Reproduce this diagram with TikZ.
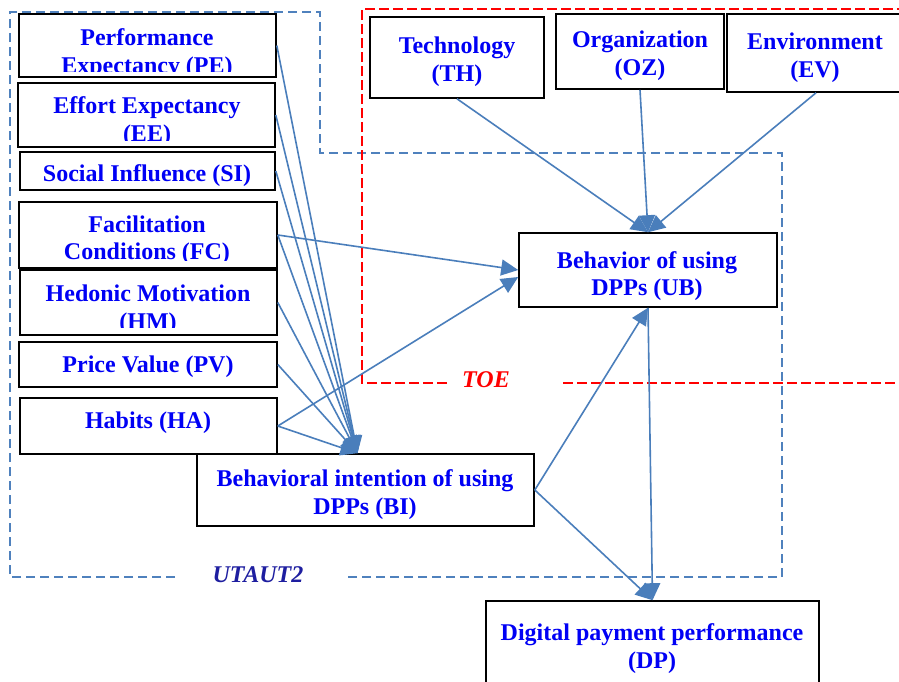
\documentclass[tikz,border=0pt]{standalone}
\usepackage{fontspec}
\setmainfont{Liberation Serif}
\usetikzlibrary{arrows.meta,fit}

\definecolor{arrowblue}{RGB}{74,126,187}
\definecolor{frameblue}{RGB}{79,129,189}
\definecolor{labelblue}{RGB}{0,0,245}
\definecolor{framelabel}{RGB}{30,30,160}
\definecolor{toered}{RGB}{255,0,0}

\tikzset{
  box/.style={draw=black, line width=1.6pt, fill=white, inner sep=0pt},
  lbl/.style={text=labelblue, font=\fontsize{24pt}{27.5pt}\selectfont\bfseries,
              align=center, inner sep=0pt},
  arr/.style={draw=arrowblue, line width=1.6pt, -{Triangle[length=17pt,width=16pt]}},
  utautframe/.style={draw=frameblue, line width=1.4pt, dash pattern=on 9pt off 5pt},
  toeframe/.style={draw=toered, line width=1.8pt, dash pattern=on 10pt off 4pt},
  framelbl/.style={font=\fontsize{24pt}{27.5pt}\selectfont\bfseries\itshape, inner sep=0pt},
}

\begin{document}
\begin{tikzpicture}[x=1pt, y=-1pt]
\useasboundingbox (0,0) rectangle (899,681);
\fill[white] (0,0) rectangle (899,681);

% model frames
\draw[utautframe] (175,577) -- (10,577) -- (10,12) -- (320,12) -- (320,153)
  -- (782,153) -- (782,577) -- (345,577);
\node[framelbl, text=framelabel] (utaut) at (258,575) {UTAUT2};

\draw[toeframe] (447,383) -- (362,383) -- (362,9) -- (905,9);
\draw[toeframe] (563,383) -- (905,383);
\node[framelbl, text=toered] (toe) at (486,380) {TOE};

% UTAUT2 constructs
\node[box, fit={(19,14) (276,77)}] (PE) {};
\node[box, fit={(18,83) (275,147)}] (EE) {};
\node[box, fit={(20,152) (275,190)}] (SI) {};
\node[box, fit={(19,202) (277,268)}] (FC) {};
\node[box, fit={(20,270) (277,335)}] (HM) {};
\node[box, fit={(19,342) (277,387)}] (PV) {};
\node[box, fit={(20,398) (277,454)}] (HA) {};

\begin{scope}
  \clip (19,14) rectangle (276,71);
  \node[lbl] (PEt) at (147,53.5) {Performance\\Expectancy (PE)};
\end{scope}
\begin{scope}
  \clip (18,83) rectangle (275,140);
  \node[lbl] (EEt) at (147,121.5) {Effort Expectancy\\(EE)};
\end{scope}
\node[lbl] (SIt) at (147,176) {Social Influence (SI)};
\begin{scope}
  \clip (19,202) rectangle (277,260);
  \node[lbl] (FCt) at (147,240) {Facilitation\\Conditions (FC)};
\end{scope}
\begin{scope}
  \clip (20,270) rectangle (277,327);
  \node[lbl] (HMt) at (148,309.5) {Hedonic Motivation\\(HM)};
\end{scope}
\node[lbl] (PVt) at (148,367) {Price Value (PV)};
\node[lbl] (HAt) at (148,423) {Habits (HA)};

% TOE constructs
\node[box, fit={(370,17) (544,98)}] (TH) {};
\node[box, fit={(556,14) (724,89)}] (OZ) {};
\node[box, fit={(727,14) (905,92)}] (EV) {};
\node[lbl] (THt) at (457,61.5) {Technology\\(TH)};
\node[lbl] (OZt) at (640,55.5) {Organization\\(OZ)};
\node[lbl] (EVt) at (815,57.5) {Environment\\(EV)};

% outcomes
\node[box, fit={(519,233) (777,307)}] (UB) {};
\node[lbl] (UBt) at (647,276) {Behavior of using\\DPPs (UB)};
\node[box, fit={(197,454) (534,526)}] (BI) {};
\node[lbl] (BIt) at (365,494.5) {Behavioral intention of using\\DPPs (BI)};
\node[box, fit={(486,601) (819,700)}] (DP) {};
\node[lbl] (DPt) at (652,648.5) {Digital payment performance\\(DP)};

% paths into behavioral intention
\foreach \src in {PE,EE,SI,FC,HM,PV,HA}
  \draw[arr] (\src.east) -- ([xshift=-8pt]BI.north);

% paths into use behavior
\draw[arr] (FC.east) -- (UB.west);
\draw[arr] (HA.east) -- ([yshift=-7pt]UB.west);
\draw[arr] (TH.south) -- (UB.north);
\draw[arr] (OZ.south) -- (UB.north);
\draw[arr] (EV.south) -- (UB.north);
\draw[arr] (BI.east) -- (UB.south);

% paths into digital payment performance
\draw[arr] (BI.east) -- (DP.north);
\draw[arr] (UB.south) -- (DP.north);
\end{tikzpicture}
\end{document}
